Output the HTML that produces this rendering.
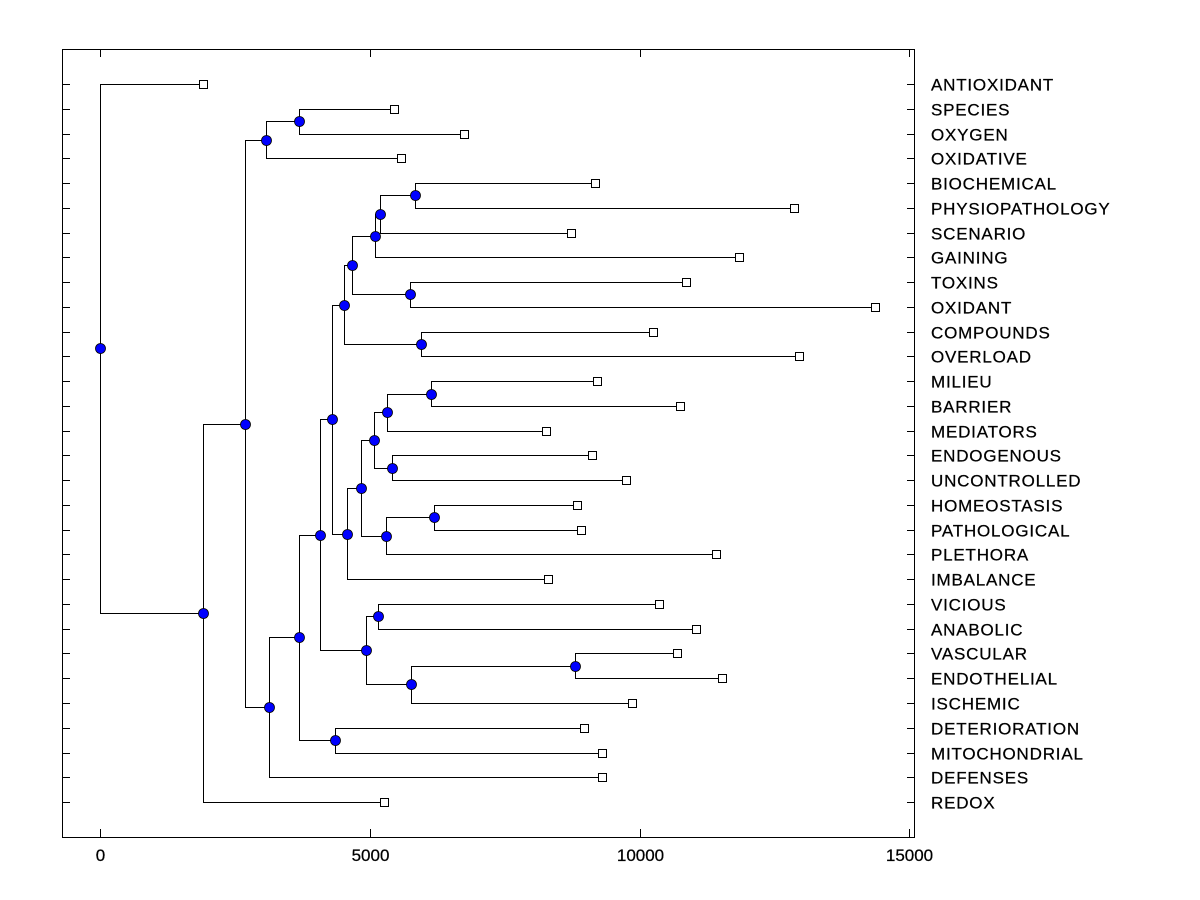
<!DOCTYPE html>
<html><head><meta charset="utf-8"><style>
body{margin:0;background:#fff}
svg{display:block}
text{font-family:"Liberation Sans",Arial,sans-serif;font-size:17px;fill:#000;stroke:#000;stroke-width:0.25}
text.leaf{letter-spacing:0.8px}
</style></head><body>
<svg id="chart" width="1200" height="900" xmlns="http://www.w3.org/2000/svg"></svg>
<script>
const leafLabels = ["ANTIOXIDANT","SPECIES","OXYGEN","OXIDATIVE","BIOCHEMICAL","PHYSIOPATHOLOGY","SCENARIO","GAINING","TOXINS","OXIDANT","COMPOUNDS","OVERLOAD","MILIEU","BARRIER","MEDIATORS","ENDOGENOUS","UNCONTROLLED","HOMEOSTASIS","PATHOLOGICAL","PLETHORA","IMBALANCE","VICIOUS","ANABOLIC","VASCULAR","ENDOTHELIAL","ISCHEMIC","DETERIORATION","MITOCHONDRIAL","DEFENSES","REDOX"];
const leafValues = [1907,5444,6741,5574,9167,12870,8722,11852,10870,14370,10241,12963,9204,10759,8259,9111,9741,8833,8907,11426,8296,10370,11056,10704,11537,9852,8963,9296,9296,5259];
const mergeLeft = [1,30,4,32,33,8,34,10,36,12,39,15,40,17,43,42,45,38,21,23,49,48,47,26,52,54,31,56,0];
const mergeRight = [2,3,5,6,7,9,35,11,37,13,14,16,41,18,19,44,20,46,22,24,25,50,51,27,53,28,55,29,57];
const mergeHeights = [3685,3074,5833,5185,5093,5741,4667,5944,4519,6130,5315,5407,5074,6185,5296,4833,4574,4296,5148,8796,5759,4926,4074,4352,3685,3130,2685,1907,0];
const xTicks = [0,5000,10000,15000];

const NS="http://www.w3.org/2000/svg";
const svg=document.getElementById('chart');
const X0=100, PX=0.05395;
const xs=v=>X0+v*PX;
const ys=i=>84+i*24.76;
function mk(tag,attrs,parent){const e=document.createElementNS(NS,tag);for(const k in attrs)e.setAttribute(k,attrs[k]);(parent||svg).appendChild(e);return e;}

const frame=mk('rect',{x:62.5,y:49.5,width:852,height:788,fill:'none',stroke:'#000','stroke-width':1});



const axG=mk('g',{});


xTicks.forEach(t=>{
  const x=Math.round(xs(t))+0.5;
  mk('line',{x1:x,x2:x,y1:837,y2:829,stroke:'#000'},axG);
  mk('line',{x1:x,x2:x,y1:50,y2:57,stroke:'#000'},axG);
  const tx=mk('text',{x:x,y:861,'text-anchor':'middle'},axG);
  tx.textContent=t;
  
  
});

const nodeX=[],nodeY=[];
leafValues.forEach((v,i)=>{nodeX[i]=xs(v);nodeY[i]=ys(i);});
mergeHeights.forEach((h,k)=>{const id=30+k;nodeX[id]=xs(h);nodeY[id]=(nodeY[mergeLeft[k]]+nodeY[mergeRight[k]])/2;});

const linesG=mk('g',{stroke:'#000','stroke-width':1,fill:'none'});


mergeHeights.forEach((h,k)=>{
  const x=Math.round(nodeX[30+k])+0.5;
  const a=mergeLeft[k],b=mergeRight[k];
  const ya=Math.round(nodeY[a])+0.5,yb=Math.round(nodeY[b])+0.5;
  mk('path',{d:`M${Math.round(nodeX[a])} ${ya}H${x}V${yb}H${Math.round(nodeX[b])}`},linesG);
});

leafLabels.forEach((l,i)=>{
  const y=Math.round(ys(i))+0.5;
  mk('line',{x1:62,x2:70,y1:y,y2:y,stroke:'#000'});
  mk('line',{x1:907,x2:915,y1:y,y2:y,stroke:'#000'});
  const t=mk('text',{x:931,y:y+6,class:'leaf'});
  t.textContent=l;
  
  
  const s=mk('rect',{x:Math.round(nodeX[i])-4+0.5,y:y-4,width:8,height:8,fill:'#fff',stroke:'#000'});
  
  
});
mergeHeights.forEach((h,k)=>{
  const c=mk('circle',{cx:Math.round(nodeX[30+k])+0.5,cy:Math.round(nodeY[30+k])+0.5,r:5,fill:'#0000ff',stroke:'#000','stroke-width':0.8});
  
  
});
</script>
</body></html>
